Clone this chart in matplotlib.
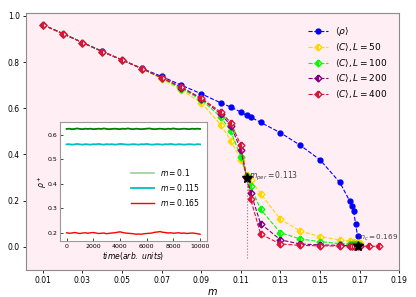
import numpy as np
import matplotlib.pyplot as plt

# main panel data
m_rho = [0.01, 0.02, 0.03, 0.04, 0.05, 0.06, 0.07, 0.08, 0.09, 0.10, 0.105, 0.11, 0.113,
         0.115, 0.12, 0.13, 0.14, 0.15, 0.16, 0.165, 0.166, 0.167, 0.168, 0.169, 0.1695]
rho = [0.962, 0.924, 0.885, 0.847, 0.810, 0.773, 0.738, 0.700, 0.663, 0.623, 0.605, 0.584, 0.569,
       0.562, 0.539, 0.494, 0.440, 0.377, 0.279, 0.199, 0.178, 0.153, 0.100, 0.045, 0.015]

m_c = [0.01, 0.02, 0.03, 0.04, 0.05, 0.06, 0.07, 0.08, 0.09, 0.10, 0.105, 0.11, 0.113,
       0.115, 0.12, 0.13, 0.14, 0.15, 0.16, 0.165, 0.166, 0.167, 0.168, 0.169, 0.17]
c_50 = [0.962, 0.924, 0.885, 0.846, 0.809, 0.772, 0.728, 0.678, 0.625, 0.527, 0.460, 0.375, 0.310,
        0.290, 0.230, 0.119, 0.068, 0.044, 0.030, 0.024, 0.022, 0.020, 0.018, 0.017, 0.015]
c_100 = [0.962, 0.924, 0.885, 0.846, 0.809, 0.772, 0.731, 0.685, 0.637, 0.562, 0.500, 0.390, 0.305,
         0.262, 0.162, 0.061, 0.034, 0.022, 0.014, 0.012, 0.011, 0.010, 0.010, 0.009, 0.009]
c_200 = [0.962, 0.924, 0.885, 0.846, 0.809, 0.772, 0.733, 0.690, 0.642, 0.575, 0.525, 0.420, 0.300,
         0.235, 0.100, 0.030, 0.012, 0.008, 0.006, 0.005, 0.005, 0.005, 0.005, 0.004, 0.004]
m_400 = m_c + [0.175, 0.18]
c_400 = [0.962, 0.924, 0.885, 0.846, 0.809, 0.772, 0.733, 0.692, 0.644, 0.583, 0.537, 0.440, 0.300,
         0.207, 0.055, 0.012, 0.006, 0.004, 0.003, 0.002, 0.002, 0.002, 0.002, 0.002, 0.002, 0.002, 0.002]

m_per, c_per = 0.113, 0.30
m_crit, c_crit = 0.169, 0.005

# inset data: rho+ vs time
t = list(range(0, 10001, 200))
r_010 = [0.624, 0.625, 0.623, 0.624, 0.626, 0.624, 0.623, 0.625, 0.624, 0.625, 0.623, 0.624, 0.625,
         0.624, 0.626, 0.624, 0.623, 0.624, 0.625, 0.624, 0.623, 0.625, 0.624, 0.626, 0.624, 0.623,
         0.625, 0.624, 0.623, 0.624, 0.625, 0.626, 0.624, 0.623, 0.624, 0.625, 0.624, 0.623, 0.625,
         0.624, 0.626, 0.624, 0.623, 0.624, 0.625, 0.624, 0.623, 0.625, 0.624, 0.625, 0.624]
r_0115 = [0.561, 0.562, 0.560, 0.561, 0.563, 0.561, 0.560, 0.562, 0.561, 0.560, 0.562, 0.561, 0.563,
          0.561, 0.560, 0.562, 0.561, 0.562, 0.560, 0.561, 0.563, 0.562, 0.561, 0.560, 0.561, 0.562,
          0.561, 0.560, 0.562, 0.561, 0.563, 0.561, 0.560, 0.561, 0.562, 0.561, 0.560, 0.562, 0.561,
          0.563, 0.561, 0.560, 0.562, 0.561, 0.560, 0.561, 0.562, 0.561, 0.560, 0.562, 0.561]
r_0165 = [0.201, 0.199, 0.200, 0.202, 0.200, 0.198, 0.200, 0.201, 0.199, 0.201, 0.202, 0.200, 0.198,
          0.199, 0.200, 0.197, 0.199, 0.200, 0.201, 0.203, 0.205, 0.202, 0.200, 0.199, 0.198, 0.197,
          0.195, 0.196, 0.195, 0.197, 0.198, 0.199, 0.200, 0.203, 0.204, 0.206, 0.203, 0.202, 0.200,
          0.201, 0.199, 0.200, 0.201, 0.199, 0.200, 0.198, 0.199, 0.200, 0.199, 0.197, 0.195]

fig = plt.figure(figsize=(4.16, 2.97), dpi=100)
ax = fig.add_axes([0.0625, 0.091, 0.897, 0.865])
ax.set_facecolor('#ffeef3')

ms = 3.5
ax.plot(m_rho, rho, '--o', color='blue', lw=0.8, ms=ms, label=r'$\langle\rho\rangle$')
ax.plot(m_c, c_50, '--D', color='gold', lw=0.8, ms=ms, fillstyle='left',
        markerfacecoloralt='white', label=r'$\langle C\rangle, L=50$')
ax.plot(m_c, c_100, '--D', color='lime', lw=0.8, ms=ms, fillstyle='left',
        markerfacecoloralt='white', label=r'$\langle C\rangle, L=100$')
ax.plot(m_c, c_200, '--D', color='purple', lw=0.8, ms=ms, fillstyle='left',
        markerfacecoloralt='white', label=r'$\langle C\rangle, L=200$')
ax.plot(m_400, c_400, '--D', color='crimson', lw=0.8, ms=ms, fillstyle='left',
        markerfacecoloralt='white', label=r'$\langle C\rangle, L=400$')

ax.plot([m_per], [c_per], '*', color='black', ms=7, zorder=5)
ax.plot([m_crit], [c_crit], '*', color='black', ms=7, zorder=5)
ax.vlines(m_per, -0.05, c_per, colors='gray', linestyles=':', lw=0.8)
ax.text(m_per + 0.0012, c_per + 0.005, r'$m_{per}=0.113$', fontsize=5.5, color='0.25', va='center')
ax.text(m_crit - 0.0005, c_crit + 0.035, r'$m_c=0.169$', fontsize=5.2, color='0.25', va='center')

ax.set_xlim(0.0015, 0.19)
ax.set_xticks([0.01, 0.03, 0.05, 0.07, 0.09, 0.11, 0.13, 0.15, 0.17, 0.19])
ax.set_yticks([0.0, 0.2, 0.4, 0.6, 0.8, 1.0])
ax.tick_params(labelsize=5.5, length=2.5, width=0.6, pad=2)
ax.set_xlabel(r'$m$', fontsize=7, labelpad=1)
for s in ax.spines.values():
    s.set_color('0.55')
    s.set_linewidth(0.8)
ax.legend(loc='upper right', frameon=False, fontsize=6.5, handlelength=2.2,
          labelspacing=0.5, borderaxespad=0.9)

# inset
axi = fig.add_axes([0.144, 0.189, 0.353, 0.40])
axi.set_facecolor('white')
axi.plot(t, r_010, color='green', lw=1.3, label=r'$m=0.1$')
axi.plot(t, r_0115, color='c', lw=1.3, label=r'$m=0.115$')
axi.plot(t, r_0165, color='red', lw=1.0, label=r'$m=0.165$')
axi.set_ylim(0.168, 0.652)
axi.set_yticks([0.2, 0.3, 0.4, 0.5, 0.6])
axi.set_xticks([0, 2000, 4000, 6000, 8000, 10000])
axi.tick_params(labelsize=4.5, length=2, width=0.5, direction='in', pad=2)
axi.set_xlabel(r'$time(arb.\ units)$', fontsize=5.5, labelpad=1)
axi.set_ylabel(r'$\rho^+$', fontsize=5.5, labelpad=-1)
for s in axi.spines.values():
    s.set_color('0.6')
    s.set_linewidth(0.8)
leg = axi.legend(loc='center right', frameon=False, fontsize=5.5, handlelength=3,
                 bbox_to_anchor=(1.0, 0.45))
leg.legend_handles[0].set_alpha(0.35)

plt.savefig('out.png', dpi=100)
